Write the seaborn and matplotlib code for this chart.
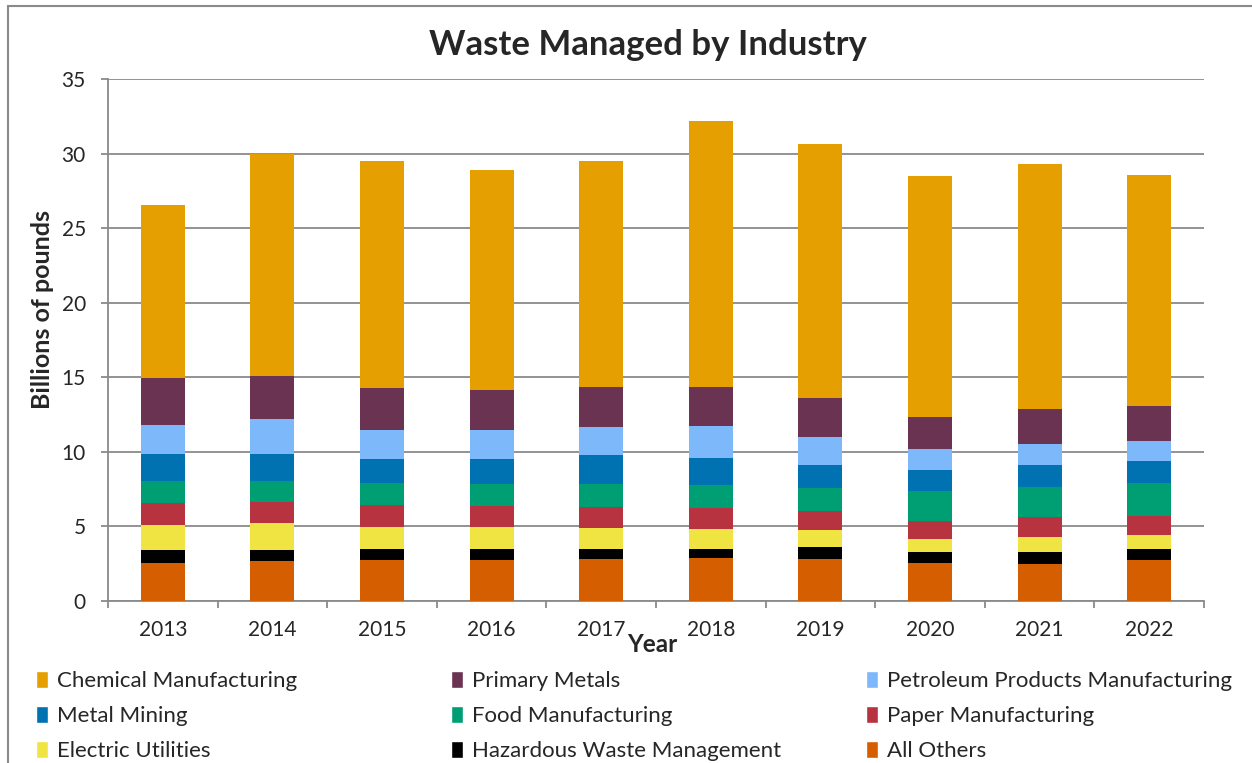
import matplotlib

matplotlib.use("Agg")

import matplotlib.pyplot as plt
import numpy as np
import pandas as pd
import seaborn as sns
from matplotlib.patches import Patch, Rectangle

YEARS = ["2013", "2014", "2015", "2016", "2017", "2018", "2019", "2020", "2021", "2022"]

# segment values, billions of pounds (bottom of stack first)
ALL_OTHERS = [2.56, 2.67, 2.76, 2.76, 2.83, 2.89, 2.83, 2.53, 2.49, 2.76]
HAZARDOUS_WASTE = [0.87, 0.72, 0.72, 0.72, 0.69, 0.63, 0.78, 0.74, 0.78, 0.72]
ELECTRIC_UTILITIES = [1.68, 1.81, 1.50, 1.50, 1.39, 1.32, 1.12, 0.90, 1.03, 0.96]
PAPER = [1.48, 1.44, 1.48, 1.41, 1.41, 1.42, 1.32, 1.21, 1.31, 1.26]
FOOD = [1.46, 1.41, 1.43, 1.44, 1.51, 1.54, 1.51, 1.97, 2.01, 2.19]
METAL_MINING = [1.82, 1.82, 1.66, 1.68, 1.99, 1.80, 1.57, 1.44, 1.51, 1.48]
PETROLEUM = [1.92, 2.35, 1.95, 1.99, 1.88, 2.15, 1.90, 1.39, 1.43, 1.39]
PRIMARY_METALS = [3.14, 2.89, 2.76, 2.63, 2.63, 2.58, 2.56, 2.17, 2.35, 2.29]
CHEMICAL = [11.67, 14.89, 15.24, 14.77, 15.22, 17.87, 17.06, 16.15, 16.41, 15.53]

SERIES = {
    "All Others": ALL_OTHERS,
    "Hazardous Waste Management": HAZARDOUS_WASTE,
    "Electric Utilities": ELECTRIC_UTILITIES,
    "Paper Manufacturing": PAPER,
    "Food Manufacturing": FOOD,
    "Metal Mining": METAL_MINING,
    "Petroleum Products Manufacturing": PETROLEUM,
    "Primary Metals": PRIMARY_METALS,
    "Chemical Manufacturing": CHEMICAL,
}

COLORS = {
    "Chemical Manufacturing": "#E69F00",
    "Primary Metals": "#6A3352",
    "Petroleum Products Manufacturing": "#7DB8FA",
    "Metal Mining": "#0072B2",
    "Food Manufacturing": "#009E73",
    "Paper Manufacturing": "#B83340",
    "Electric Utilities": "#F0E442",
    "Hazardous Waste Management": "#000000",
    "All Others": "#D55E00",
}

LEGEND_COLUMNS = [
    ["Chemical Manufacturing", "Metal Mining", "Electric Utilities"],
    ["Primary Metals", "Food Manufacturing", "Hazardous Waste Management"],
    ["Petroleum Products Manufacturing", "Paper Manufacturing", "All Others"],
]

GRID = "#8A8A8A"


def main() -> None:
    sns.set_theme(style="white")
    plt.rcParams["font.family"] = ["Lato", "DejaVu Sans"]

    df = pd.DataFrame(SERIES, index=YEARS)
    cum = df.cumsum(axis=1)
    cum["year"] = YEARS

    fig = plt.figure(figsize=(12.52, 7.63), dpi=100)
    ax = fig.add_axes([108 / 1252, 1 - 601 / 763, 1096 / 1252, (601 - 79.3) / 763])

    # draw cumulative layers from the top of the stack down
    for name in reversed(list(SERIES)):
        sns.barplot(
            data=cum,
            x="year",
            y=name,
            color=COLORS[name],
            saturation=1,
            width=0.4,
            linewidth=0,
            ax=ax,
            zorder=3,
        )

    ax.set_xlim(-0.5, len(YEARS) - 0.5)
    ax.set_ylim(0, 35)
    ax.set_yticks(np.arange(0, 36, 5))
    ax.yaxis.grid(True, color=GRID, linewidth=1.3)
    ax.set_axisbelow(True)
    for side in ["top", "right"]:
        ax.spines[side].set_visible(False)
    for side in ["left", "bottom"]:
        ax.spines[side].set_color(GRID)
        ax.spines[side].set_linewidth(1.3)

    ax.set_xticks(np.arange(-0.5, len(YEARS), 1), minor=True)
    ax.tick_params(axis="x", which="major", length=0, pad=14, labelsize=15)
    ax.tick_params(axis="x", which="minor", length=5, width=1.3, color=GRID, direction="out", bottom=True)
    ax.tick_params(axis="y", length=5, width=1.3, color=GRID, direction="out", left=True, pad=11, labelsize=15)

    ax.set_xlabel("Year", fontsize=17.5, fontweight="bold", va="center")
    ax.xaxis.set_label_coords(0.497, -0.084)
    ax.set_ylabel("Billions of pounds", fontsize=18, fontweight="bold", va="center")
    ax.yaxis.set_label_coords(-0.0602, 0.559)

    fig.text(0.5176, 1 - 45 / 763, "Waste Managed by Industry", ha="center", va="center",
             fontsize=25, fontweight="bold")

    # chart area border (cut off at the right and bottom edges)
    fig.add_artist(Rectangle((8 / 1252, -0.2), 1.2, 1.2 - 6 / 763, transform=fig.transFigure,
                             fill=False, edgecolor=GRID, linewidth=1.5))

    col_x = [36 / 1252, 451 / 1252, 866 / 1252]
    for x, names in zip(col_x, LEGEND_COLUMNS):
        handles = [Patch(facecolor=COLORS[n], label=n) for n in names]
        fig.legend(
            handles=handles,
            loc="upper left",
            bbox_to_anchor=(x, 1 - 671 / 763),
            frameon=False,
            fontsize=16,
            handlelength=0.55,
            handleheight=0.8,
            handletextpad=0.4,
            labelspacing=0.66,
            borderpad=0,
            borderaxespad=0,
        )

    fig.savefig("out.png", dpi=100)
    plt.close(fig)


if __name__ == "__main__":
    main()
